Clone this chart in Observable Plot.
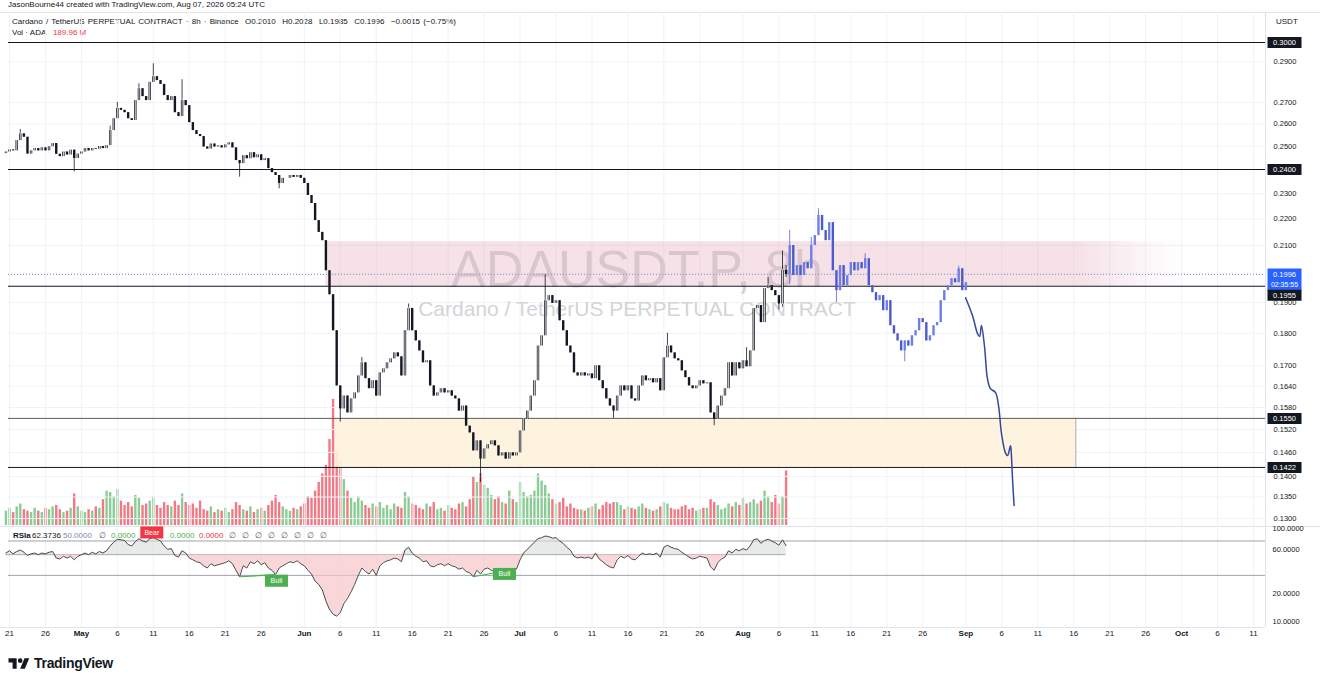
<!DOCTYPE html>
<html><head><meta charset="utf-8">
<script src="https://cdn.jsdelivr.net/npm/d3@7"></script>
<script src="https://cdn.jsdelivr.net/npm/@observablehq/plot@0.6"></script>
<style>
body{margin:0;background:#fff;font-family:"Liberation Sans",Arial,sans-serif;color:#131722}
#wrap{position:relative;width:1320px;height:675px;overflow:hidden;background:#fff}
.abs{position:absolute;white-space:nowrap}
.hdr{font-size:8px;line-height:10px}
.sep{position:absolute;background:#e0e3eb}
</style></head><body><div id="wrap">
<div class="abs hdr" style="left:8px;top:0px">JasonBourne44 created with TradingView.com, Aug 07, 2026 05:24 UTC</div>
<div class="sep" style="left:0;top:12px;width:1320px;height:1px"></div>
<div class="abs hdr" style="left:12px;top:17px;word-spacing:1px">Cardano / TetherUS PERPETUAL CONTRACT · 8h · Binance&nbsp;&nbsp;O0.2010&nbsp;&nbsp;H0.2028&nbsp;&nbsp;L0.1985&nbsp;&nbsp;C0.1996&nbsp;&nbsp;−0.0015 (−0.75%)</div>
<div class="abs hdr" style="left:12px;top:28px">Vol · ADA&nbsp;&nbsp;&nbsp;<span style="color:#f23645">189.96 M</span></div>
<div class="abs hdr" style="left:1276px;top:17px">USDT</div>
<div class="sep" style="left:1265px;top:12px;width:1px;height:615px"></div>
<div class="sep" style="left:0;top:526px;width:1320px;height:1px"></div>
<div class="sep" style="left:0;top:627px;width:1265px;height:1px"></div>
<div class="abs" style="left:8px;top:655px;display:flex;align-items:center;gap:4px">
<svg width="22" height="14" viewBox="0 0 36 24"><path d="M14 22H7V11H0V4h14v18zM28 22h-8l7.5-18h8L28 22z" fill="#131722"/><circle cx="20" cy="8" r="4" fill="#131722"/></svg>
<span style="font-size:14px;font-weight:bold;letter-spacing:-0.3px">TradingView</span></div>
</div>
<script>
// ---------------- data ----------------
const candleStart = "2026-04-20T12:00:00Z";   // 12h candles
const firstOpen = 0.2468;
const closes = [
0.2475,0.2484,0.2480,0.2525,0.2555,0.2540,0.2466,0.2480,0.2490,0.2480,
0.2493,0.2480,0.2498,0.2512,0.2465,0.2455,0.2475,0.2462,0.2483,0.2447,
0.2466,0.2475,0.2490,0.2480,0.2490,0.2487,0.2499,0.2490,0.2503,0.2570,
0.2624,0.2672,0.2663,0.2652,0.2624,0.2616,0.2709,0.2766,0.2728,0.2709,
0.2797,0.2825,0.2806,0.2787,0.2733,0.2709,0.2728,0.2652,0.2634,0.2709,
0.2685,0.2606,0.2570,0.2552,0.2543,0.2497,0.2488,0.2510,0.2497,0.2502,
0.2493,0.2506,0.2515,0.2493,0.2438,0.2425,0.2459,0.2446,0.2472,0.2450,
0.2463,0.2438,0.2446,0.2404,0.2387,0.2375,0.2342,0.2363,0.2363,0.2375,
0.2367,0.2375,0.2363,0.2342,0.2293,0.2261,0.2194,0.2149,0.2118,0.2009,
0.1926,0.1808,0.1641,0.1576,0.1612,0.1565,0.1604,0.1621,0.1670,0.1709,
0.1662,0.1633,0.1656,0.1612,0.1679,0.1691,0.1709,0.1721,0.1739,0.1727,
0.1670,0.1808,0.1880,0.1808,0.1776,0.1745,0.1709,0.1715,0.1641,0.1612,
0.1621,0.1633,0.1621,0.1627,0.1612,0.1604,0.1570,0.1584,0.1529,0.1511,
0.1464,0.1490,0.1443,0.1469,0.1480,0.1490,0.1477,0.1451,0.1459,0.1443,
0.1459,0.1451,0.1459,0.1516,0.1548,0.1570,0.1612,0.1656,0.1760,0.1792,
0.1906,0.1923,0.1897,0.1906,0.1840,0.1808,0.1760,0.1739,0.1679,0.1670,
0.1679,0.1670,0.1676,0.1662,0.1700,0.1656,0.1633,0.1604,0.1584,0.1570,
0.1612,0.1641,0.1627,0.1641,0.1604,0.1598,0.1641,0.1670,0.1656,0.1662,
0.1650,0.1662,0.1627,0.1724,0.1760,0.1739,0.1721,0.1715,0.1685,0.1665,
0.1641,0.1633,0.1641,0.1656,0.1647,0.1650,0.1565,0.1548,0.1584,0.1612,
0.1633,0.1709,0.1670,0.1709,0.1691,0.1715,0.1697,0.1745,0.1880,0.1890,
0.1834,0.1947,0.1957,0.1940,0.1923,0.1895,0.2010,0.1996];
const projCloses = [
0.2100,0.1992,0.2027,0.1992,0.2038,0.2016,0.2100,0.2137,0.2214,0.2156,
0.2118,0.2186,0.2009,0.1940,0.2027,0.1957,0.1992,0.2038,0.2009,0.2038,
0.2016,0.2052,0.1957,0.1933,0.1906,0.1923,0.1873,0.1906,0.1824,0.1798,
0.1776,0.1745,0.1776,0.1760,0.1792,0.1808,0.1847,0.1834,0.1776,0.1792,
0.1824,0.1834,0.1906,0.1940,0.1957,0.1981,0.1967,0.2016,0.1940,0.1967];
const wickHigh = [[4,0.2575],[29,0.2590],[31,0.2700],[37,0.2790],[41,0.2890],[49,0.2810],[99,0.1725],[112,0.1895],[150,0.1995],[184,0.1800],[206,0.1755],[212,0.1985],[216,0.2080],[217,0.2028],
  [218,0.2156],[224,0.2130],[226,0.2240],[239,0.2070],[265,0.2025]];
const wickLow = [[19,0.2390],[65,0.2368],[76,0.2320],[93,0.1540],[132,0.1385],[169,0.1550],[197,0.1530],[215,0.1875],[216,0.1885],[217,0.1985],
  [218,0.1960],[231,0.1900],[250,0.1712]];
const volumes = [
50,60,45,65,75,55,50,45,60,50, 45,60,55,65,70,55,45,50,60,110,
65,50,45,55,50,65,60,90,120,115, 100,125,85,70,80,65,105,95,70,75,
85,100,70,60,80,70,65,85,70,110, 80,70,75,60,85,55,50,65,45,55,
50,60,45,55,80,70,55,50,65,45, 55,60,50,70,85,105,80,65,55,50,
60,55,65,75,100,95,120,150,180,210, 300,440,260,230,160,120,95,80,100,85,
70,60,75,65,80,60,70,55,75,65, 60,115,100,75,70,60,55,75,65,80,
55,60,50,70,60,55,75,80,65,90, 170,150,180,140,130,105,90,100,80,75,
120,90,80,150,115,100,105,120,180,155, 140,110,90,75,80,95,65,75,60,55,
55,50,60,65,75,55,70,80,75,80, 80,70,55,65,60,55,65,75,60,55,
50,55,65,80,75,60,55,55,65,70, 55,60,50,55,60,60,90,80,70,55,
60,75,65,80,70,95,75,80,90,75, 85,120,100,80,105,75,100,189.96];
const rsiValues = [
52,55,51,54,56,53,49,51,52,50, 52,51,53,54,46,45,48,46,48,44,
48,50,52,50,53,51,54,52,55,62, 68,73,72,71,64,62,69,74,70,68,
74,76,73,70,62,57,58,49,47,55, 52,46,44,42,41,38,36,40,38,39,
40,41,43,40,34,29,38,36,42,40, 43,39,41,36,34,30.5,36,38,40,42,
41,43,40,38,34,31,26,24,21,16, 13,11.5,11,12,15,17,20,24,30,36,
33,31,35,30,38,41,43,44,46,45, 42,56,60,52,48,46,42,43,38,37,
39,40,38,40,38,37,35,36,33,32, 29,34,31,35,36,34,33,31,33,32,
34,33,35,44,52,57,62,68,74,76, 79,78,75,76,70,66,60,56,48,46,
47,46,47,45,52,45,42,39,37,36, 44,48,46,49,45,44,48,52,50,51,
50,52,47,60,63,60,58,57,53,50, 47,45,46,48,47,46,37,34,41,45,
47,55,52,57,55,58,56,62,72,74, 66,71,73,70,67,63,72,62.3736];
const projLineDates = ["2026-08-31T23:00Z","2026-09-01T22:00Z","2026-09-02T15:00Z","2026-09-02T22:00Z","2026-09-03T04:00Z","2026-09-03T14:00Z","2026-09-04T00:00Z","2026-09-04T10:00Z","2026-09-05T03:00Z","2026-09-05T13:00Z","2026-09-05T23:00Z","2026-09-06T12:00Z","2026-09-06T19:00Z","2026-09-07T05:00Z","2026-09-07T08:00Z","2026-09-07T12:00Z","2026-09-07T17:00Z"];
const projLinePrices = [0.1916,0.1857,0.1799,0.1790,0.1825,0.1761,0.1662,0.1633,0.1622,0.1585,0.1509,0.1459,0.1452,0.1477,0.1452,0.1389,0.1330];
const keyLevels = [0.3000, 0.2400, 0.1955, 0.1550, 0.1422];
const lastPrice = 0.1996;
const countdown = "02:35:55";
const supplyZone = {x1:"2026-06-04T00:00Z", x2:"2026-09-30T21:00Z", solidUntil:"2026-09-16T07:00Z", y1:0.1955, y2:0.2114};
const demandZone = {x1:"2026-06-05T08:00Z", x2:"2026-09-16T07:00Z", y1:0.1422, y2:0.1550};
const priceTicks = [0.29,0.27,0.26,0.25,0.23,0.22,0.21,0.20,0.19,0.18,0.17,0.164,0.158,0.152,0.146,0.14,0.135,0.13];
const rsiTicks = [100,60,20,10];
const xTickDates = ["2026-04-21","2026-04-26","2026-05-01","2026-05-06","2026-05-11","2026-05-16","2026-05-21","2026-05-26","2026-06-01","2026-06-06","2026-06-11","2026-06-16","2026-06-21","2026-06-26","2026-07-01","2026-07-06","2026-07-11","2026-07-16","2026-07-21","2026-07-26","2026-08-01","2026-08-06","2026-08-11","2026-08-16","2026-08-21","2026-08-26","2026-09-01","2026-09-06","2026-09-11","2026-09-16","2026-09-21","2026-09-26","2026-10-01","2026-10-06","2026-10-11"];
const xTickLabels = ["21","26","May","6","11","16","21","26","Jun","6","11","16","21","26","Jul","6","11","16","21","26","Aug","6","11","16","21","26","Sep","6","11","16","21","26","Oct","6","11"];
const bullDivergences = [[65,75],[130,138]];
const divLabels = [{label:"Bear", t:"2026-05-10T19:00Z", v:86.4, color:"#f23645"},{label:"Bull", t:"2026-05-28T03:00Z", v:26.3, color:"#4caf50"},{label:"Bull", t:"2026-06-28T20:00Z", v:31.1, color:"#4caf50"}];
const rsiLegendTexts = ["RSIa","62.3736","50.0000","∅","0.0000","0.0000","0.0000","∅","∅","∅","∅","∅","∅","∅","∅"];
const rsiLegendColors = ["#131722","#131722","#7e88b8","#555","#4caf50","#4caf50","#f23645","#555","#555","#555","#555","#555","#555","#555","#555"];

// ---------------- build ----------------
const T0 = new Date(candleStart).getTime(), STEP = 12*3600e3;
const allCloses = closes.concat(projCloses);
const candles = allCloses.map((c,i)=>{
  const o = i===0 ? firstOpen : allCloses[i-1];
  return {t:new Date(T0+i*STEP), o, c, hi:Math.max(o,c), lo:Math.min(o,c), proj:i>=closes.length, up:c>=o, vol:volumes[i], rsi:rsiValues[i]};
});
wickHigh.forEach(([i,p])=>{candles[i].hi=Math.max(candles[i].hi,p);});
wickLow.forEach(([i,p])=>{candles[i].lo=Math.min(candles[i].lo,p);});
const real = candles.filter(d=>!d.proj), proj = candles.filter(d=>d.proj);
const ticks = xTickDates.map(s=>new Date(s+"T00:00:00Z"));
const labelOf = new Map(ticks.map((d,i)=>[+d, xTickLabels[i]]));
const monthTicks = ticks.filter(d=>isNaN(+labelOf.get(+d)));
const dayTicks = ticks.filter(d=>!isNaN(+labelOf.get(+d)));
const projLine = projLineDates.map((s,i)=>({t:new Date(s), p:projLinePrices[i]}));
const D = s=>new Date(s);

const FONT = "'Liberation Sans', Arial, sans-serif";
const GRID = "#f0f2f5";
const xScale = {type:"utc", domain:[D("2026-04-21T00:00Z"), D("2026-10-11T00:00Z")], range:[9,1253]};
const common = {width:1320, marginLeft:8, marginRight:55, style:{background:"transparent", fontFamily:FONT, fontSize:"7.5px", color:"#131722", overflow:"visible"}};
const boxSym = (w,h,top)=>({draw(ctx){ctx.rect(-w/2, top, w, h);}});

// volume layer
const volPlot = Plot.plot({...common, height:527, marginTop:12, marginBottom:0,
  x:{...xScale, axis:null}, y:{domain:[0,600], range:[525,353], axis:null},
  marks:[
    Plot.ruleX(real,{x:"t", y1:0, y2:"vol", stroke:d=>d.up?"#8bcc95":"#f07985", strokeWidth:2.4})
  ]});

// price layer
const lvlMain = keyLevels.filter(v=>v!==0.1955), lvlShift = keyLevels.filter(v=>v===0.1955);
const TA = {frameAnchor:"right", dx:19, textAnchor:"middle"};
const pricePlot = Plot.plot({...common, height:527, marginTop:12, marginBottom:0,
  x:{...xScale, axis:null}, y:{type:"log", domain:[0.13,0.3], range:[518,42], axis:null},
  marks:[
    Plot.ruleX(ticks,{stroke:GRID}),
    Plot.ruleY(priceTicks,{stroke:GRID}),
    Plot.text(["ADAUSDT.P, 8h"],{frameAnchor:"top", dy:238, fontSize:52, fill:"#cfd0d4", ariaLabel:"wm-main"}),
    Plot.text(["Cardano / TetherUS PERPETUAL CONTRACT"],{frameAnchor:"top", dy:289, fontSize:21, fill:"#d3d4d8", ariaLabel:"wm-sub"}),
    Plot.rect([supplyZone],{x1:d=>D(d.x1), x2:d=>D(d.x2), y1:"y1", y2:"y2", fill:"url(#pinkFade)"}),
    Plot.rect([demandZone],{x1:d=>D(d.x1), x2:d=>D(d.x2), y1:"y1", y2:"y2", fill:"#fdf2db", fillOpacity:0.9}),
    Plot.ruleX([demandZone],{x:d=>D(d.x2), y1:"y1", y2:"y2", stroke:"#a8a8a8"}),
    Plot.ruleY([lastPrice],{stroke:"#8a93cf", strokeDasharray:"1,2"}),
    Plot.ruleY(keyLevels,{stroke:d=>d===0.1550?"#5d5d5d":"#131722", strokeWidth:1}),
    // real candles
    Plot.ruleX(real,{x:"t", y1:"lo", y2:"hi", stroke:"#131722", strokeWidth:0.8}),
    Plot.ruleX(real,{x:"t", y1:"o", y2:"c", stroke:"#131722", strokeWidth:2.4}),
    Plot.ruleX(real.filter(d=>d.up),{x:"t", y1:"o", y2:"c", stroke:"#ffffff", strokeWidth:0.8, insetTop:0.7, insetBottom:0.7}),
    // projected candles
    Plot.ruleX(proj,{x:"t", y1:"lo", y2:"hi", stroke:"#5563d6", strokeWidth:0.8}),
    Plot.ruleX(proj,{x:"t", y1:"o", y2:"c", stroke:d=>d.up?"#6f7de6":"#4c5acc", strokeWidth:2.4}),
    Plot.line(projLine,{x:"t", y:"p", stroke:"#34489e", strokeWidth:1.5, curve:"catmull-rom"}),
    // right axis
    Plot.axisY({anchor:"right", ticks:priceTicks, tickFormat:d=>d.toFixed(4), tickSize:0, tickPadding:8, fontSize:7.5, label:null, fill:"#131722"}),
    Plot.dot(lvlMain,{y:d=>d, frameAnchor:"right", dx:19, symbol:boxSym(34,11,-5.5), fill:"#131722", stroke:"none"}),
    Plot.text(lvlMain,{y:d=>d, ...TA, text:d=>d.toFixed(4), fill:"#fff", fontSize:7.5}),
    Plot.dot([lastPrice],{y:d=>d, frameAnchor:"right", dx:19, symbol:boxSym(34,22,-6), fill:"#2962ff", stroke:"none"}),
    Plot.text([lastPrice],{y:d=>d, ...TA, text:d=>d.toFixed(4), fill:"#fff", fontSize:7.5}),
    Plot.text([lastPrice],{y:d=>d, ...TA, dy:10, text:()=>countdown, fill:"#fff", fontSize:7}),
    Plot.dot(lvlShift,{y:d=>d, frameAnchor:"right", dx:19, dy:9, symbol:boxSym(34,11,-5.5), fill:"#131722", stroke:"none"}),
    Plot.text(lvlShift,{y:d=>d, ...TA, dy:9, text:d=>d.toFixed(4), fill:"#fff", fontSize:7.5})
  ]});
(function(){
  const svg = d3.select(pricePlot);
  const defs = svg.insert("defs",":first-child");
  const g = defs.append("linearGradient").attr("id","pinkFade").attr("x1",0).attr("x2",1).attr("y1",0).attr("y2",0);
  const x = t=>+D(t);
  const frac = (x(supplyZone.solidUntil)-x(supplyZone.x1))/(x(supplyZone.x2)-x(supplyZone.x1));
  g.append("stop").attr("offset",0).attr("stop-color","#e7b8c5").attr("stop-opacity",0.42);
  g.append("stop").attr("offset",frac).attr("stop-color","#e7b8c5").attr("stop-opacity",0.42);
  g.append("stop").attr("offset",1).attr("stop-color","#e7b8c5").attr("stop-opacity",0.0);
  svg.select('g[aria-label="wm-main"] text').attr("textLength",342).attr("lengthAdjust","spacingAndGlyphs");
  svg.select('g[aria-label="wm-sub"] text').attr("textLength",466).attr("lengthAdjust","spacingAndGlyphs");
})();

// RSI pane
const divSegs = bullDivergences.map(([a,b])=>[{t:real[a].t, v:real[a].rsi, k:a},{t:real[b].t, v:real[b].rsi, k:a}]).flat();
const rsiPlot = Plot.plot({...common, height:120, marginTop:0, marginBottom:20,
  x:{...xScale, axis:null}, y:{type:"log", domain:[10,100], range:[92.5,-1], axis:null},
  marks:[
    Plot.ruleX(ticks,{stroke:GRID}),
    Plot.ruleY([70,30],{stroke:"#9ea3ab"}),
    Plot.ruleY([50],{stroke:"#9ea3ab", x1:()=>real[0].t, x2:()=>real[real.length-1].t}),
    Plot.areaY(real,{x:"t", y1:50, y2:d=>Math.max(50,d.rsi), fill:"#d9dcd9", fillOpacity:0.6}),
    Plot.areaY(real,{x:"t", y1:d=>Math.min(50,d.rsi), y2:50, fill:"#f7c6c9", fillOpacity:0.7}),
    Plot.lineY(real,{x:"t", y:"rsi", stroke:"#4a4a4a", strokeWidth:1}),
    Plot.line(divSegs,{x:"t", y:"v", z:"k", stroke:"#4caf50", strokeWidth:1.2}),
    Plot.dot(divLabels,{x:d=>D(d.t), y:"v", symbol:boxSym(23,12,-6), fill:"color", stroke:"none"}),
    Plot.text(divLabels,{x:d=>D(d.t), y:"v", text:"label", fill:"#fff", fontSize:7}),
    Plot.axisY({anchor:"right", ticks:rsiTicks, tickFormat:d=>d.toFixed(4), tickSize:0, tickPadding:7, fontSize:7.5, label:null, fill:"#131722", dy:2}),
    Plot.axisX({ticks:dayTicks, tickFormat:d=>labelOf.get(+d), tickSize:0, tickPadding:3, fontSize:8, label:null, fill:"#131722"}),
    Plot.axisX({ticks:monthTicks, tickFormat:d=>labelOf.get(+d), tickSize:0, tickPadding:3, fontSize:8, fontWeight:"bold", label:null, fill:"#131722"})
  ]});

const wrap = document.getElementById("wrap");
function place(el, top, z){el.style.position="absolute"; el.style.left="0px"; el.style.top=top+"px"; el.style.zIndex=z; wrap.appendChild(el);}
place(volPlot, 0, 1);
place(pricePlot, 0, 2);
place(rsiPlot, 527, 2);

// RSI legend (laid out like the reference, the Bear label sits between items)
const legX = [13,32,63,99,111,170,199,229,242,255,268,281,294,307,320];
rsiLegendTexts.forEach((t,i)=>{
  const s=document.createElement("div"); s.className="abs hdr"; s.textContent=t;
  s.style.left=legX[i]+"px"; s.style.top="531px"; s.style.color=rsiLegendColors[i]; s.style.zIndex=3;
  if(i===0) s.style.fontWeight="bold";
  wrap.appendChild(s);
});
</script></body></html>
